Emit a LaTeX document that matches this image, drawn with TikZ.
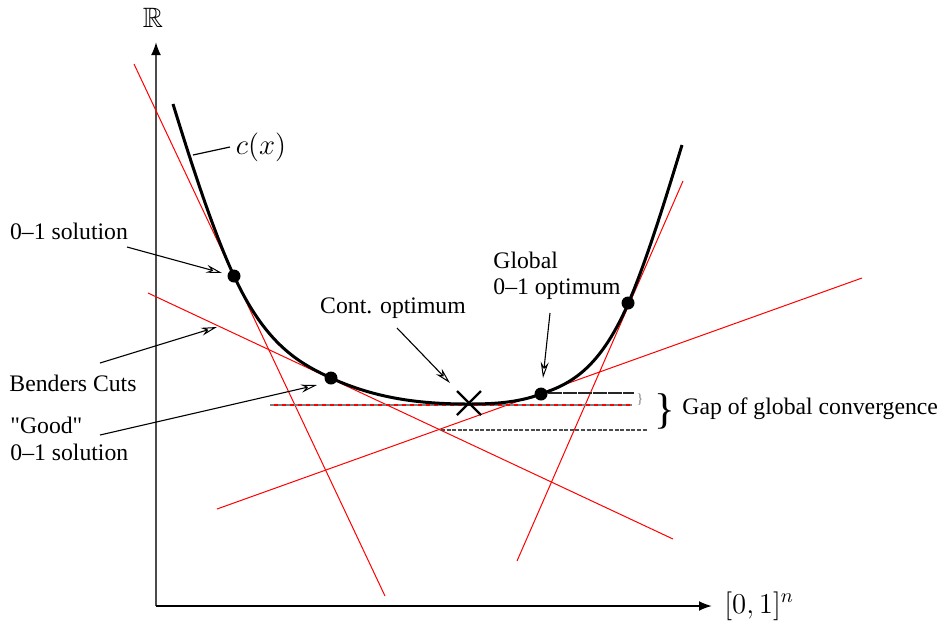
\documentclass[tikz,border=0pt]{standalone}
\usepackage{fontspec}
\setmainfont{Liberation Serif}[Ligatures=TeXOff]
\usepackage{amssymb}
\usetikzlibrary{arrows.meta}
\begin{document}
\begin{tikzpicture}[x=0.5pt,y=-0.5pt,
  lbl/.style={font=\fontsize{11.85}{13.2}\selectfont, inner sep=0pt},
  mathlbl/.style={font=\fontsize{14}{16}\selectfont, inner sep=0pt},
  cut/.style={red, line width=0.5pt},
  fcurve/.style={line width=1.5pt, black},
  dot/.style={circle, fill=black, inner sep=0pt, minimum size=6.5pt},
  pointer/.style={line width=0.55pt, -{Stealth[open, length=8pt, width=4pt, inset=2.6pt, line width=0.5pt]}},
  axistip/.style={-{Latex[color=black, length=6.5pt, width=5pt]}},
]
\useasboundingbox (0,0) rectangle (943,634);

% axes
\coordinate (O) at (156,606);
\coordinate (ytop) at (156,42);
\coordinate (xend) at (712,606);
\draw[gray!60!black, line width=1pt, axistip] (O) -- (ytop);
\draw[black, line width=1pt, axistip] (O) -- (xend);
\node[mathlbl] (R) at (153,18) {$\mathbb{R}$};
\node[mathlbl, anchor=west] (X) at (724,606) {$[0,1]^n$};

% Benders cuts (red tangent lines)
\coordinate (l1a) at (134,64);  \coordinate (l1b) at (385,596);
\coordinate (l2a) at (148,293); \coordinate (l2b) at (673,539);
\coordinate (l3a) at (217,509); \coordinate (l3b) at (862,278);
\coordinate (l4a) at (517,561); \coordinate (l4b) at (683,181);
\draw[cut] (l1a) -- (l1b);
\draw[cut] (l2a) -- (l2b);
\draw[cut] (l3a) -- (l3b);
\draw[cut] (l4a) -- (l4b);

% horizontal level lines
\coordinate (h1a) at (270,405); \coordinate (h1b) at (632,405);
\draw[red, line width=0.8pt] (h1a) -- (h1b);
\draw[gray, line width=0.8pt, dash pattern=on 2pt off 2pt] (h1a) -- (h1b);
\coordinate (h2a) at (548,393); \coordinate (h2b) at (634,393);
\draw[black!85, line width=0.6pt, dash pattern=on 7pt off 0.5pt] (h2a) -- (h2b);
\coordinate (h3a) at (441,430); \coordinate (h3b) at (648,430);
\draw[gray!60!black, line width=1pt, dash pattern=on 2pt off 0.8pt] (h3a) -- (h3b);

% the cost function
\draw[fcurve] (173,104) .. controls (193,169) and (214,233) .. (234,276)
  .. controls (266,345) and (299,363) .. (331,378)
  .. controls (377,399) and (422,404) .. (468,404)
  .. controls (492,404) and (517,403) .. (541,394)
  .. controls (570,384) and (599,370) .. (628,304)
  .. controls (646,262) and (664,204) .. (682,145);

% points
\node[dot] (d1) at (234,276) {};
\node[dot] (d2) at (331,378) {};
\node[dot] (d3) at (541,394) {};
\node[dot] (d4) at (628,303) {};

% continuous optimum cross
\coordinate (xo) at (469,403);
\draw[line width=1.2pt] ([shift={(-12,-12)}]xo) -- ([shift={(12,12)}]xo)
  ([shift={(-12,12)}]xo) -- ([shift={(12,-12)}]xo);

% labels
\node[mathlbl] (cx) at (261,147) {$c(x)$};
\node[lbl] (sol) at (69,231) {0–1 solution};
\node[lbl] (bc) at (73,383) {Benders Cuts};
\node[lbl, align=left, anchor=west] (good) at (10,439) {"Good"\\0–1 solution};
\node[lbl] (cont) at (393,308) {Cont. optimum};
\node[lbl, align=left, anchor=west] (glob) at (493,276) {Global\\0–1 optimum};
\node[lbl, anchor=west] (gap) at (682,409) {Gap of global convergence};
\node[font=\fontsize{21.5}{22}\selectfont, inner sep=0pt] (bigbr) at (665,411.5) {\}};
\node[font=\fontsize{7}{8}\selectfont, text=gray, inner sep=0pt] (smbr) at (640,400) {\}};

% pointers
\coordinate (c1s) at (193,155); \coordinate (c1e) at (230,147);
\draw[line width=0.6pt] (c1s) -- (c1e);
\coordinate (a1s) at (127,247); \coordinate (a1e) at (222,273);
\draw[pointer] (a1s) -- (a1e);
\coordinate (a2s) at (100,363); \coordinate (a2e) at (217,327);
\draw[pointer] (a2s) -- (a2e);
\coordinate (a3s) at (100,435); \coordinate (a3e) at (317,385);
\draw[pointer] (a3s) -- (a3e);
\coordinate (a4s) at (397,328); \coordinate (a4e) at (450,383);
\draw[pointer] (a4s) -- (a4e);
\coordinate (a5s) at (550,313); \coordinate (a5e) at (543,378);
\draw[pointer] (a5s) -- (a5e);
\end{tikzpicture}
\end{document}
